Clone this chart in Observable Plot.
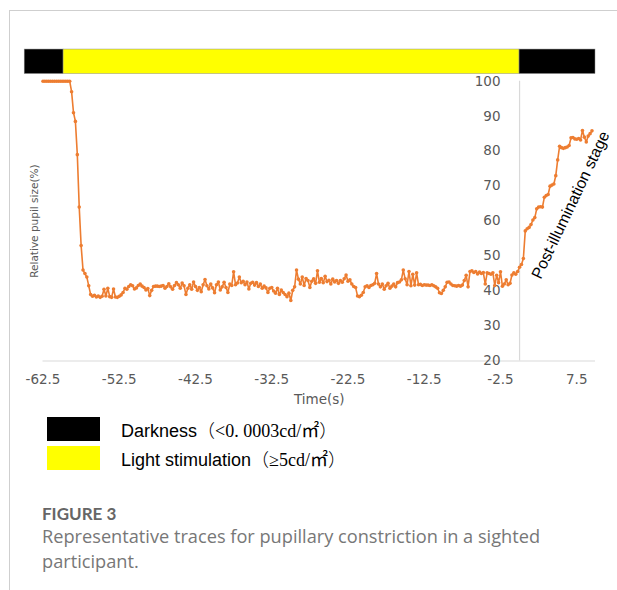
<!DOCTYPE html>
<html>
<head>
<meta charset="utf-8">
<script src="https://cdn.jsdelivr.net/npm/d3@7"></script>
<script src="https://cdn.jsdelivr.net/npm/@observablehq/plot@0.6"></script>
<style>
  html, body { margin: 0; padding: 0; background: #fff; }
  #page { position: relative; width: 617px; height: 590px; overflow: hidden; background: #fff; }
  #frame { position: absolute; left: 9px; top: 10px; width: 700px; height: 700px;
           border-left: 1px solid #cfcfcf; border-top: 1px solid #cfcfcf; }
  #chart { position: absolute; left: 0; top: 0; }
  .legend-row { position: absolute; left: 47px; height: 25px; display: flex; align-items: center; }
  .swatch { width: 53px; height: 24px; margin-right: 21px; }
  .legend-text { font-family: "Liberation Sans", Arial, sans-serif; font-size: 18px; color: #000; white-space: nowrap; }
  .legend-text .unit { font-family: "Liberation Serif", "Noto Sans CJK SC", serif; }
  .legend-text .cjk { font-family: "Noto Sans CJK SC", sans-serif; font-weight: 300; }
  #caption { position: absolute; left: 42px; top: 503px; width: 530px; color: #777; }
  #caption .fig { font-family: Lato, "Open Sans", sans-serif; font-size: 17px; font-weight: 700; color: #666; line-height: 21px; }
  #caption .txt { font-family: "Open Sans", Lato, sans-serif; font-size: 18.2px; line-height: 25px; margin-top: 0; }
</style>
</head>
<body>
<div id="page">
  <div id="frame"></div>
  <div id="chart"></div>
  <div class="legend-row" style="top:416px">
    <div class="swatch" style="background:#000"></div>
    <div class="legend-text">Darkness<span class="cjk">（</span><span class="unit">&lt;0. 0003cd/㎡</span><span class="cjk">）</span></div>
  </div>
  <div class="legend-row" style="top:445px">
    <div class="swatch" style="background:#ffff00"></div>
    <div class="legend-text">Light stimulation<span class="cjk">（</span><span class="unit">≥5cd/㎡</span><span class="cjk">）</span></div>
  </div>
  <div id="caption">
    <div class="fig">FIGURE 3</div>
    <div class="txt">Representative traces for pupillary constriction in a sighted participant.</div>
  </div>
</div>
<script>
// ---- data ----
const sampleStep = 0.25;               // seconds between samples
// start time (s) of each block of samples
const blockStarts = [-62.5, -58.75, -56.0, 0.0];
// pre-stimulus darkness (100 %)
const darkValues = [100, 100, 100, 100, 100, 100, 100, 100, 100, 100, 100, 100, 100, 100, 100];
// rapid constriction after light onset
const constrictionValues = [97, 91, 88.5, 79, 64, 53, 46, 45, 44, 41.5, 39];
// sustained constriction during light (-56 s ... -0.25 s), 4 samples per second
const plateauValues = [
  38.5, 38.8, 38.3, 38.6,  38.2, 38.5, 40.5, 38.6,  40.8, 38.4, 38.2, 40.6,
  38.3, 38.2, 38.5, 38.9,  39.6, 40.8, 40.5, 41.3,  41.8, 41.5, 40.6, 40.9,
  41.6, 42.0, 41.4, 41.0,  40.3, 40.7, 38.7, 40.2,  41.3, 41.4, 41.4, 41.3,
  41.4, 41.6, 40.8, 41.3,  42.1, 41.2, 40.5, 41.6,  42.4, 41.8, 40.8, 42.3,
  41.5, 39.0, 40.8, 41.8,  40.5, 42.6, 41.3, 40.2,  41.0, 39.8, 41.8, 43.3,
  41.5, 40.6, 42.0, 40.9,  39.5, 41.8, 42.6, 40.3,  41.2, 42.5, 41.0, 39.6,
  42.0, 41.6, 45.5, 41.8,  42.3, 44.0, 42.4, 42.8,  41.8, 42.6, 40.6, 42.2,
  42.5, 41.7, 42.4, 41.3,  42.0, 40.8, 41.4, 40.9,  39.6, 40.8, 41.0, 40.0,
  39.4, 40.8, 39.0, 40.3,  39.6, 39.0, 38.4, 39.4,  37.3, 40.2, 41.2, 46.0,
  43.4, 42.0, 44.0, 41.6,  43.6, 43.0, 41.0, 42.8,  43.5, 42.2, 45.8, 42.5,
  43.6, 42.4, 44.2, 42.7,  43.1, 42.0, 43.4, 42.6,  43.0, 42.2, 43.0, 42.5,
  43.5, 44.6, 42.8, 43.2,  42.0, 41.3, 41.0, 38.6,  38.4, 38.8, 39.6, 41.2,
  41.5, 41.0, 41.6, 41.8,  42.2, 45.0, 42.0, 41.2,  42.0, 40.5, 41.5, 42.2,
  40.8, 41.4, 42.0, 41.2,  42.4, 42.6, 43.2, 46.0,  43.5, 41.8, 45.6, 41.5,
  44.8, 41.7, 45.2, 41.8,  41.9, 41.6, 41.8, 41.7,  41.7, 41.6, 41.8, 41.5,
  41.2, 40.8, 39.5, 39.3,  40.2, 41.2, 42.5, 42.6,  42.0, 41.6, 41.5, 41.4,
  41.6, 41.4, 41.7, 43.0,  44.5, 41.2, 45.6, 45.8,  45.3, 45.6, 44.9, 45.4,
  45.0, 45.3, 42.0, 45.2,  45.0, 44.8, 45.2, 41.6,  44.5, 42.4, 45.5, 41.4,
  42.0, 43.2, 41.8, 42.2,  44.6, 45.2, 44.8, 45.6
];
// post-illumination recovery (0 s ... 9.5 s)
const recoveryValues = [
  46.8, 47.6, 49.3, 57.2, 57.8, 58.2, 59.0, 60.3, 61.0, 63.5,
  64.0, 64.1, 64.0, 66.8, 67.3, 67.6, 70.0, 70.3, 70.6, 73.0,
  77.5, 81.4, 81.0, 80.8, 81.0, 81.2, 81.6, 83.8, 83.9, 83.5,
  83.4, 83.6, 83.2, 85.9, 84.0, 82.6, 84.3, 85.0, 85.8
];
// stimulus bar
const phaseNames  = ["Darkness", "Light stimulation", "Darkness"];
const phaseStarts = [-64.9, -59.8, 0];
const phaseEnds   = [-59.8, 0, 9.96];
// axes
const xTicks = [-62.5, -52.5, -42.5, -32.5, -22.5, -12.5, -2.5, 7.5];
const yTicks = [20, 30, 40, 50, 60, 70, 80, 90, 100];

// ---- build ----
const blocks = [darkValues, constrictionValues, plateauValues, recoveryValues];
const trace = blocks.flatMap((vals, b) =>
  vals.map((v, i) => ({t: blockStarts[b] + i * sampleStep, v})));
const phases = phaseNames.map((name, i) => ({name, x1: phaseStarts[i], x2: phaseEnds[i]}));
const phaseColor = {"Darkness": "#000000", "Light stimulation": "#ffff00"};

const orange = "#ED7D31";
const axisGray = "#d9d9d9";
const labelGray = "#595959";

const chart = Plot.plot({
  width: 617,
  height: 410,
  marginLeft: 42.5,
  marginRight: 22,
  marginTop: 80.7,
  marginBottom: 49.5,
  style: {fontFamily: "DejaVu Sans, sans-serif", fontSize: "13.5px", background: "transparent"},
  x: {domain: [-62.5, 9.96], axis: null},
  y: {domain: [20, 100], axis: null},
  marks: [
    // stimulus bar above the plot
    Plot.rectX(phases, {x1: "x1", x2: "x2", y1: 102.05, y2: 109.05,
      fill: d => phaseColor[d.name], stroke: "#8c8c8c", strokeWidth: 0.5}),
    // axes
    Plot.ruleY([20], {stroke: axisGray, strokeWidth: 1.2}),
    Plot.ruleX([0], {y1: 20, y2: 100, stroke: axisGray, strokeWidth: 1.2}),
    Plot.axisX(xTicks, {tickSize: 0, tickPadding: 13, fill: labelGray, fontSize: 13.5,
      tickFormat: d => String(d), label: null}),
    Plot.text(["Time(s)"], {frameAnchor: "bottom", dy: 42.5, fill: labelGray, fontSize: 13.5}),
    Plot.text(yTicks, {x: 0, y: d => d, text: d => String(d), textAnchor: "end", dx: -19,
      fill: labelGray, fontSize: 13.5}),
    Plot.text(["Relative pupil size(%)"], {frameAnchor: "left", textAnchor: "middle", rotate: -90,
      dx: -8.5, fill: labelGray, fontSize: 10.5}),
    // trace
    Plot.line(trace, {x: "t", y: "v", stroke: orange, strokeWidth: 1.6}),
    Plot.dot(trace, {x: "t", y: "v", r: 1.8, fill: orange, stroke: "none"}),
    // annotation
    Plot.text(["Post-illumination stage"], {x: 6.7, y: 64.6, rotate: -64.6,
      fontFamily: "Liberation Sans, Arial, sans-serif", fontSize: 16, fill: "#000"})
  ]
});
document.getElementById("chart").appendChild(chart);
</script>
</body>
</html>
